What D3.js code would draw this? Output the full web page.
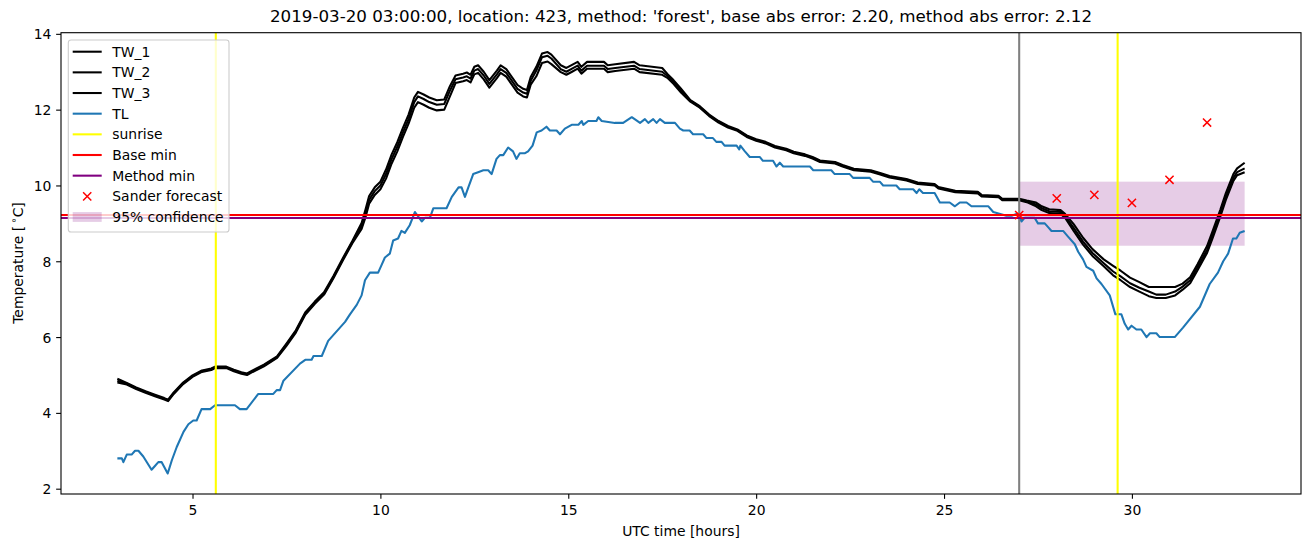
<!DOCTYPE html>
<html><head><meta charset="utf-8">
<script src="https://cdn.jsdelivr.net/npm/d3@7"></script>
<style>
body{margin:0;background:#fff}
svg text{font-family:"DejaVu Sans",sans-serif;fill:#000}
</style>
</head><body>
<svg id="chart" width="1310" height="547"></svg>
<script>
// ---------------- data ----------------
const twHours = [3.0,3.25,3.5,3.75,4.0,4.25,4.35,4.5,4.75,5.0,5.25,5.5,5.6,5.9,6.1,6.3,6.45,6.6,6.9,7.25,7.5,7.75,8.0,8.25,8.5,8.75,9.0,9.25,9.5,9.6,9.7,9.85,10.0,10.15,10.3,10.45,10.6,10.75,10.9,11.0,11.15,11.3,11.5,11.7,11.85,12.0,12.2,12.3,12.4,12.5,12.6,12.75,12.9,13.1,13.2,13.35,13.5,13.65,13.8,13.9,14.0,14.15,14.3,14.45,14.55,14.8,14.95,15.1,15.25,15.35,15.5,15.95,16.05,16.25,16.75,16.9,17.5,17.65,17.8,18.0,18.25,18.5,18.75,19.0,19.25,19.5,19.75,20.0,20.25,20.5,20.8,21.0,21.3,21.5,21.7,22.1,22.3,22.6,23.05,23.3,23.55,24.0,24.3,24.75,24.85,25.3,25.9,26.0,26.45,26.55,27.0,27.2,27.45,27.6,27.8,28.1,28.22,28.45,28.7,28.95,29.25,29.5,29.7,29.95,30.2,30.45,30.65,30.9,31.15,31.35,31.55,31.75,32.0,32.15,32.35,32.5,32.7,32.8,33.0];
const tw1 = [4.9,4.79,4.67,4.57,4.48,4.39,4.35,4.54,4.8,4.99,5.12,5.17,5.22,5.22,5.14,5.07,5.04,5.12,5.27,5.49,5.83,6.18,6.65,6.93,7.18,7.61,8.08,8.53,
  9.01,9.35,9.72,9.95,10.1,10.42,10.82,11.14,11.52,11.87,12.32,12.47,12.4,12.32,12.25,12.27,12.62,12.9,12.95,12.98,12.92,13.13,13.17,13.0,12.78,13.03,13.17,13.07,12.86,12.65,12.55,12.52,12.86,13.13,13.48,13.52,13.45,13.17,13.1,13.18,13.26,13.13,13.26,13.26,13.17,13.2,13.26,13.17,13.1,12.93,12.78,12.55,
  12.25,12.09,11.87,11.7,11.57,11.48,11.32,11.22,11.15,11.04,10.97,10.89,10.82,10.75,10.66,10.62,10.54,10.44,10.4,10.33,10.25,10.17,10.08,10.04,9.96,9.86,9.83,9.75,9.73,9.65,9.65,9.6,
  9.55,9.45,9.37,9.35,9.25,8.98,8.62,8.32,8.05,7.88,7.75,7.57,7.45,7.32,7.32,7.32,7.32,7.41,7.58,7.93,8.4,8.8,9.35,9.8,10.3,10.45,10.6];
const tw2 = [4.85,4.77,4.65,4.55,4.46,4.37,4.33,4.52,4.78,4.97,5.1,5.15,5.2,5.2,5.12,5.05,5.02,5.1,5.25,5.47,5.8,6.15,6.62,6.9,7.15,7.58,8.05,8.5,
  8.93,9.25,9.62,9.85,10.0,10.3,10.7,11.02,11.4,11.75,12.2,12.35,12.28,12.2,12.13,12.15,12.5,12.8,12.85,12.88,12.82,13.03,13.07,12.9,12.68,12.93,13.07,12.97,12.76,12.55,12.45,12.42,12.76,13.03,13.38,13.42,13.35,13.07,13.0,13.08,13.16,13.03,13.16,13.16,13.07,13.1,13.16,13.07,13.0,12.88,12.73,12.5,
  12.23,12.07,11.85,11.68,11.55,11.46,11.3,11.2,11.13,11.02,10.95,10.87,10.8,10.73,10.64,10.6,10.52,10.42,10.38,10.31,10.23,10.15,10.06,10.02,9.94,9.84,9.81,9.73,9.71,9.63,9.63,9.58,
  9.5,9.4,9.32,9.3,9.2,8.88,8.52,8.22,7.95,7.73,7.6,7.42,7.3,7.2,7.12,7.12,7.2,7.33,7.5,7.85,8.3,8.7,9.25,9.7,10.2,10.35,10.45];
const tw3 = [4.8,4.75,4.63,4.53,4.44,4.35,4.31,4.5,4.76,4.95,5.08,5.13,5.18,5.18,5.1,5.03,5.0,5.08,5.23,5.45,5.77,6.12,6.59,6.87,7.12,7.55,8.02,8.47,
  8.85,9.15,9.52,9.75,9.9,10.18,10.58,10.9,11.28,11.63,12.05,12.2,12.13,12.05,11.98,12.0,12.35,12.7,12.75,12.78,12.72,12.93,12.97,12.8,12.58,12.83,12.97,12.87,12.66,12.45,12.35,12.32,12.66,12.88,13.23,13.27,13.2,12.99,12.92,13.0,13.08,12.95,13.08,13.08,12.99,13.02,13.08,12.99,12.92,12.83,12.68,12.45,
  12.21,12.05,11.83,11.66,11.53,11.44,11.28,11.18,11.11,11.0,10.93,10.85,10.78,10.71,10.62,10.58,10.5,10.4,10.36,10.29,10.21,10.13,10.04,10.0,9.92,9.82,9.79,9.71,9.69,9.61,9.61,9.56,
  9.45,9.35,9.27,9.25,9.15,8.8,8.44,8.14,7.87,7.63,7.5,7.32,7.2,7.08,7.03,7.03,7.1,7.25,7.42,7.77,8.22,8.62,9.17,9.62,10.12,10.27,10.35];

const tlHours = [3.0,3.12,3.16,3.25,3.38,3.47,3.56,3.69,3.91,4.0,4.09,4.18,4.34,4.45,4.58,4.76,4.89,5.02,5.11,5.24,5.47,5.6,6.13,6.26,6.44,6.75,7.15,7.24,7.33,7.42,7.86,8.0,8.17,8.22,8.44,8.61,9.06,9.19,9.37,9.5,9.59,9.72,9.94,10.03,10.12,10.25,10.34,10.47,10.56,10.65,10.78,10.92,11.1,11.19,11.32,11.41,11.76,11.9,12.08,12.16,12.25,12.34,12.47,12.6,12.74,12.87,12.96,13.09,13.18,13.27,13.4,13.53,13.62,13.71,13.85,13.93,14.05,14.16,14.29,14.42,14.51,14.69,14.78,14.91,15.09,15.27,15.36,15.4,15.53,15.75,15.8,15.89,16.24,16.46,16.69,16.91,17.04,17.13,17.26,17.35,17.44,17.57,17.84,17.97,18.06,18.23,18.32,18.59,18.68,18.85,18.94,19.08,19.16,19.48,19.55,19.58,19.7,19.83,20.1,20.18,20.45,20.54,20.63,20.72,21.43,21.52,22.0,22.09,22.49,22.58,23.02,23.11,23.29,23.38,23.73,23.82,24.18,24.27,24.34,24.44,24.75,24.89,25.15,25.29,25.42,25.6,25.73,26.18,26.31,26.66,26.8,26.93,27.0,27.06,27.15,27.41,27.5,27.68,27.77,27.86,28.17,28.3,28.48,28.57,28.7,28.79,28.97,29.06,29.19,29.41,29.56,29.72,29.81,29.9,29.99,30.12,30.25,30.39,30.48,30.65,30.74,31.14,31.36,31.81,32.07,32.29,32.43,32.56,32.69,32.78,32.87,33.0];
const tlTemp = [2.8,2.8,2.7,2.9,2.9,3.0,3.0,2.85,2.5,2.6,2.7,2.7,2.4,2.75,3.1,3.5,3.7,3.8,3.8,4.1,4.1,4.2,4.2,4.1,4.1,4.5,4.5,4.6,4.6,4.85,5.3,5.4,5.4,5.5,5.5,5.9,6.4,6.6,6.85,7.1,7.5,7.7,7.7,7.9,8.1,8.2,8.55,8.6,8.8,8.75,8.95,9.3,9.05,9.15,9.15,9.4,9.4,9.7,9.95,9.95,9.7,9.95,10.3,10.35,10.4,10.4,10.3,10.7,10.8,10.8,11.0,10.9,10.7,10.85,10.85,10.9,11.05,11.4,11.45,11.55,11.45,11.45,11.35,11.5,11.6,11.6,11.7,11.6,11.7,11.7,11.8,11.7,11.65,11.65,11.8,11.65,11.75,11.65,11.75,11.65,11.75,11.65,11.65,11.5,11.45,11.45,11.35,11.35,11.25,11.25,11.15,11.15,11.05,11.05,10.95,11.05,10.9,10.75,10.75,10.65,10.65,10.5,10.6,10.5,10.5,10.4,10.4,10.3,10.3,10.2,10.2,10.1,10.1,10.0,10.0,9.9,9.9,9.8,9.9,9.8,9.8,9.55,9.55,9.45,9.55,9.55,9.45,9.45,9.3,9.2,9.2,9.25,9.2,9.05,9.15,9.15,9.0,9.0,8.9,8.8,8.8,8.65,8.45,8.25,8.05,7.85,7.75,7.55,7.4,7.1,6.6,6.6,6.35,6.2,6.3,6.2,6.2,6.0,6.1,6.1,6.0,6.0,6.25,6.8,7.4,7.7,8.0,8.2,8.6,8.6,8.75,8.8];

const sanderHours = [27, 28, 29, 30, 31, 32];
const sanderTemp = [9.22, 9.66, 9.75, 9.54, 10.15, 11.66];
const sunriseHours = [5.62, 29.62];
const forecastStartHour = 27;
const baseMin = 9.22;
const methodMin = 9.14;
const confHours = [27, 33];
const confRange = [8.41, 10.1];
const xTicks = [5, 10, 15, 20, 25, 30];
const yTicks = [2, 4, 6, 8, 10, 12, 14];
const xLimits = [1.5, 34.5];
const yLimits = [1.86, 14.03];
const titleText = "2019-03-20 03:00:00, location: 423, method: 'forest', base abs error: 2.20, method abs error: 2.12";
const legendLabels = ["TW_1","TW_2","TW_3","TL","sunrise","Base min","Method min","Sander forecast","95% confidence"];

// ---------------- layout ----------------
const L = 61, R = 1301, T = 32.7, B = 494;
const FS = 13.9;
const LW = 2.08;
const TICK = 4.86;
const svg = d3.select("#chart");
svg.append("rect").attr("width",1310).attr("height",547).attr("fill","#fff");

const x = d3.scaleLinear().domain(xLimits).range([L, R]);
const y = d3.scaleLinear().domain(yLimits).range([B, T]);

svg.append("defs").append("clipPath").attr("id","clip")
  .append("rect").attr("x",L).attr("y",T).attr("width",R-L).attr("height",B-T);
const plot = svg.append("g").attr("clip-path","url(#clip)");

// confidence band (drawn beneath lines)
plot.append("rect")
  .attr("x", x(confHours[0])).attr("width", x(confHours[1]) - x(confHours[0]))
  .attr("y", y(confRange[1])).attr("height", y(confRange[0]) - y(confRange[1]))
  .attr("fill", "rgb(128,0,128)").attr("fill-opacity", 0.2);

const line = (hrs, vals) => d3.line().x((d,i)=>x(hrs[i])).y(d=>y(d))(vals);

[tw1, tw2, tw3].forEach(s => {
  plot.append("path").attr("d", line(twHours, s)).attr("fill","none")
    .attr("stroke","#000").attr("stroke-width",LW).attr("stroke-linejoin","round");
});
plot.append("path").attr("d", line(tlHours, tlTemp)).attr("fill","none")
  .attr("stroke","#1f77b4").attr("stroke-width",LW).attr("stroke-linejoin","round");

plot.append("line").attr("x1",x(forecastStartHour)).attr("x2",x(forecastStartHour))
  .attr("y1",T).attr("y2",B).attr("stroke","#808080").attr("stroke-width",LW);

sunriseHours.forEach(h => {
  plot.append("line").attr("x1",x(h)).attr("x2",x(h)).attr("y1",T).attr("y2",B)
    .attr("stroke","#ffff00").attr("stroke-width",LW);
});
plot.append("line").attr("x1",L).attr("x2",R).attr("y1",y(baseMin)).attr("y2",y(baseMin))
  .attr("stroke","#ff0000").attr("stroke-width",LW);
plot.append("line").attr("x1",L).attr("x2",R).attr("y1",y(methodMin)).attr("y2",y(methodMin))
  .attr("stroke","#800080").attr("stroke-width",LW);

const xMark = "M-4.1,-4.1L4.1,4.1M-4.1,4.1L4.1,-4.1";
plot.selectAll(".sander").data(sanderTemp).enter().append("path")
  .attr("d", xMark).attr("transform",(d,i)=>`translate(${x(sanderHours[i])},${y(d)})`)
  .attr("stroke","#ff0000").attr("stroke-width",1.5).attr("fill","none");

// axes
const xAxis = svg.append("g").attr("transform",`translate(0,${B})`)
  .call(d3.axisBottom(x).tickValues(xTicks).tickSize(TICK).tickFormat(d3.format("d")));
xAxis.select(".domain").remove();
xAxis.selectAll(".tick line").attr("stroke","#000").attr("stroke-width",1.1);
xAxis.selectAll(".tick text").attr("y",21).attr("dy",0).attr("font-size",FS)
  .attr("font-family","DejaVu Sans");

const yAxis = svg.append("g").attr("transform",`translate(${L},0)`)
  .call(d3.axisLeft(y).tickValues(yTicks).tickSize(TICK).tickFormat(d3.format("d")));
yAxis.select(".domain").remove();
yAxis.selectAll(".tick line").attr("stroke","#000").attr("stroke-width",1.1);
yAxis.selectAll(".tick text").attr("x",-9.7).attr("dy","0.36em").attr("font-size",FS)
  .attr("font-family","DejaVu Sans");

// spines
svg.append("rect").attr("x",L).attr("y",T).attr("width",R-L).attr("height",B-T)
  .attr("fill","none").attr("stroke","#000").attr("stroke-width",1.1);

// labels
svg.append("text").attr("x",(L+R)/2).attr("y",21.5).attr("text-anchor","middle")
  .attr("font-size",16.7).text(titleText);
svg.append("text").attr("x",(L+R)/2).attr("y",535.5).attr("text-anchor","middle")
  .attr("font-size",FS).text("UTC time [hours]");
const yl = svg.append("text").attr("transform","translate(22.5,263) rotate(-90)")
  .attr("text-anchor","middle").attr("font-size",FS);
yl.append("tspan").text("Temperature [");
yl.append("tspan").attr("font-size",FS*0.7).attr("dy",-5.5).attr("dx",2.5).text("∘");
yl.append("tspan").attr("dy",5.5).text("C]");

// legend
const lg = svg.append("g");
lg.append("rect").attr("x",68.3).attr("y",40).attr("width",160.7).attr("height",192)
  .attr("rx",2.8).attr("fill","#fff").attr("fill-opacity",0.8)
  .attr("stroke","#cccccc").attr("stroke-width",1.1);
const handleColors = ["#000","#000","#000","#1f77b4","#ffff00","#ff0000","#800080"];
legendLabels.forEach((lab,i) => {
  const cy = 51.7 + i*20.66;
  if (i < 7) {
    lg.append("line").attr("x1",72.7).attr("x2",101.7).attr("y1",cy).attr("y2",cy)
      .attr("stroke",handleColors[i]).attr("stroke-width",LW);
  } else if (i === 7) {
    lg.append("path").attr("d",xMark).attr("transform",`translate(87.2,${cy})`)
      .attr("stroke","#ff0000").attr("stroke-width",1.5).attr("fill","none");
  } else {
    lg.append("rect").attr("x",72.7).attr("y",cy-4.9).attr("width",29).attr("height",9.8)
      .attr("fill","rgb(128,0,128)").attr("fill-opacity",0.2);
  }
  lg.append("text").attr("x",112.3).attr("y",cy+5).attr("font-size",FS).text(lab);
});
</script>
</body></html>
